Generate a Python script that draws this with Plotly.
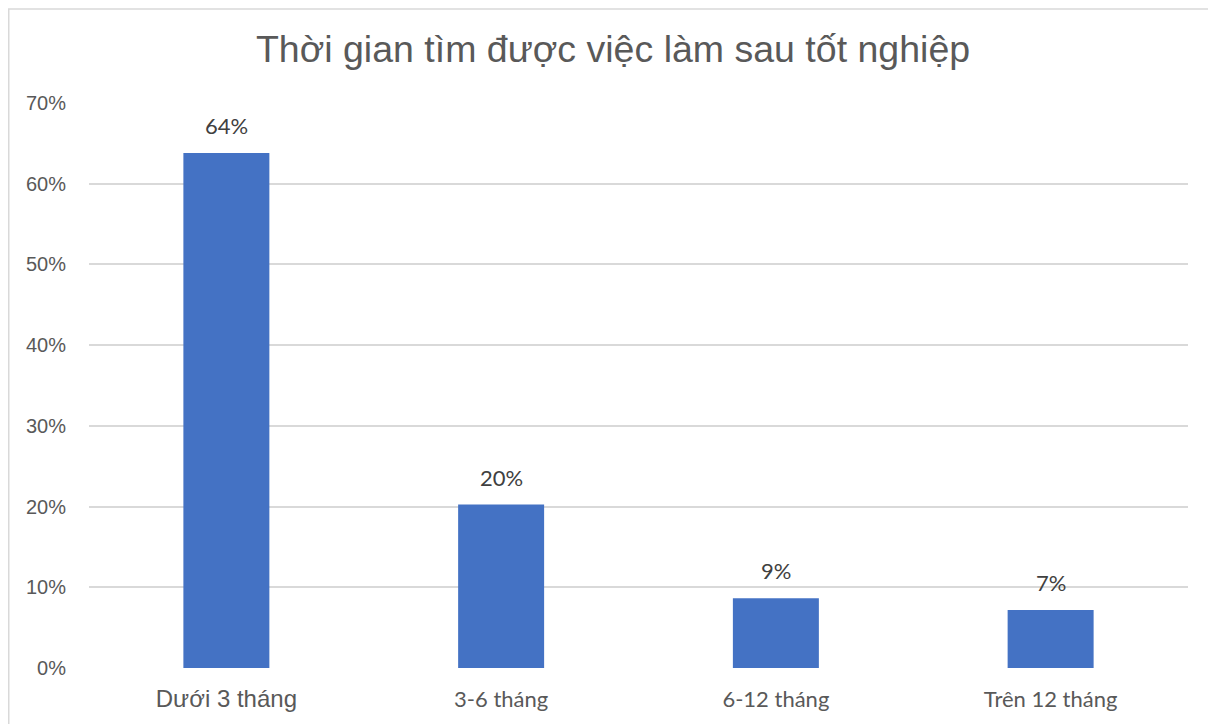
import plotly.graph_objects as go

categories = ["Dưới 3 tháng", "3-6 tháng", "6-12 tháng", "Trên 12 tháng"]
values = [0.638, 0.2025, 0.0865, 0.072]
labels = ["64%", "20%", "9%", "7%"]
tick_vals = [0, 0.1, 0.2, 0.3, 0.4, 0.5, 0.6, 0.7]
tick_text = ["0%", "10%", "20%", "30%", "40%", "50%", "60%", "70%"]
title_text = "Thời gian tìm được việc làm sau tốt nghiệp"

# first category label rendered in Arial-like font, others in Calibri-like
cat_fonts = ["Liberation Sans", "Lato", "Lato", "Lato"]
cat_sizes = [24, 22, 22, 22]
cat_ticktext = [
    f'<span style="font-family:{f};font-size:{s}px">{c}</span>'
    for c, f, s in zip(categories, cat_fonts, cat_sizes)
]

# page shows the figure offset by ~8px; size and margins compensate for that
W, H = 1208, 716
L, R, T, B = 81, 28, 95, 54

fig = go.Figure()
fig.add_trace(go.Bar(
    x=categories, y=values,
    marker=dict(color="#4472C4", line=dict(width=0)),
    width=0.313,
    hoverinfo="skip",
))

for c, v, t in zip(categories, values, labels):
    fig.add_annotation(
        x=c, y=v, text=t, showarrow=False,
        yanchor="bottom", yshift=12,
        font=dict(family="Lato", size=22, color="#404040"),
    )

pw = W - L - R
ph = H - T - B
fig.add_shape(
    type="rect", xref="paper", yref="paper",
    x0=(0.75 - L) / pw, x1=1.5, y0=-0.5, y1=(H - B - 0.75) / ph,
    line=dict(color="#d9d9d9", width=1.5), fillcolor="rgba(0,0,0,0)",
    layer="below",
)

fig.update_layout(
    width=W, height=H,
    margin=dict(l=L, r=R, t=T, b=B, pad=0),
    paper_bgcolor="white", plot_bgcolor="white",
    showlegend=False,
    title=dict(
        text=title_text, x=(613 - 8) / W, xref="container", xanchor="center",
        y=1 - 41 / H, yref="container", yanchor="middle",
        font=dict(family="Liberation Sans", size=37.5, color="#595959"),
    ),
    xaxis=dict(
        type="category",
        tickmode="array", tickvals=categories, ticktext=cat_ticktext,
        showgrid=False, zeroline=False, showline=False,
        ticks="outside", ticklen=12, tickcolor="rgba(0,0,0,0)",
        tickfont=dict(family="Lato", size=22, color="#595959"),
        fixedrange=True,
    ),
    yaxis=dict(
        range=[0, 0.7], tickmode="array", tickvals=tick_vals, ticktext=tick_text,
        showgrid=True, gridcolor="#d9d9d9", gridwidth=1.5,
        zeroline=False, showline=False,
        ticks="outside", ticklen=18, tickcolor="rgba(0,0,0,0)",
        tickfont=dict(family="Liberation Sans", size=20, color="#595959"),
        fixedrange=True,
    ),
)

fig.write_html("out.html", config={"displayModeBar": False})
